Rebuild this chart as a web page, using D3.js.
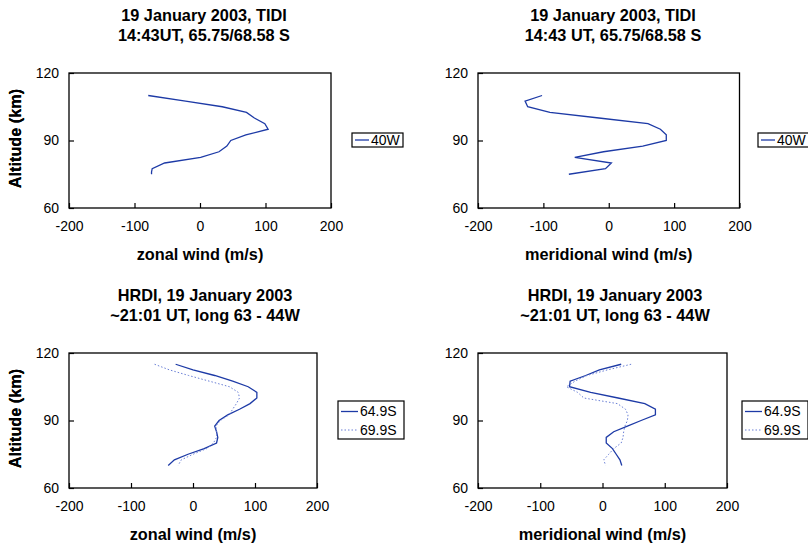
<!DOCTYPE html>
<html>
<head>
<meta charset="utf-8">
<script src="https://cdn.jsdelivr.net/npm/d3@7"></script>
<style>
  html, body { margin: 0; padding: 0; background: #fff; }
  svg { display: block; }
  text { font-family: "Liberation Sans", Arial, Helvetica, sans-serif; fill: #000; }
</style>
</head>
<body>
<svg id="chart" width="808" height="543"></svg>
<script>
// Altitude profiles of wind (km vs m/s)
const xTicks = [-200, -100, 0, 100, 200];
const yTicks = [60, 90, 120];

// TIDI, 40W
const tidiAlt = [110, 107.5, 105, 102.5, 100, 97.5, 95, 92.5, 90, 87.5, 85, 82.5, 80, 77.5, 76, 75];
const tidiZonal = [-79, -22, 34, 71, 83, 99, 104, 70, 47, 41, 29, 1, -54, -73, -74, -74];
const tidiMerAlt = [110, 107.5, 105, 102.5, 100, 97.5, 95, 92.5, 90, 87.5, 85, 82.5, 80, 77.5, 75];
const tidiMeridional = [-102, -128, -124, -90, -15, 60, 79, 88, 88, 52, -8, -52, 4, -5, -61];

// HRDI, 64.9S and 69.9S
const hrdiAlt = [115, 112.5, 110, 107.5, 105, 102.5, 100, 97.5, 95, 92.5, 90, 87.5, 85, 82.5, 80, 77.5, 75, 72.5, 70];
const hrdiZonal649 = [-28, 0, 35, 64, 89, 103, 103, 92, 75, 56, 42, 35, 38, 40, 38, 18, -8, -30, -40];
const hrdiZonal699 = [-62, -38, -7, 26, 59, 73, 75, 70, 64, 58, 44, 37, 38, 38, 33, 22, 0, -19, -24];
const hrdiMer649 = [30, -5, -27, -52, -53, -19, 25, 68, 85, 85, 62, 40, 18, 6, 6, 16, 22, 28, 31];
const hrdiMer699 = [46, 8, -25, -44, -58, -40, -30, 24, 37, 41, 40, 36, 34, 33, 30, 18, 10, 2, 5];

const solidColor = "#1d3aa6";
const dottedColor = "#6a7fd6";
const boldSize = 16.3;

const svg = d3.select("#chart");

const panels = [
  {
    x0: 69, x1: 331, y0: 73, y1: 208, tx: 204,
    title: ["19 January 2003, TIDI", "14:43UT, 65.75/68.58 S"],
    xlabel: "zonal wind (m/s)",
    series: [{ alt: tidiAlt, val: tidiZonal, name: "40W", dotted: false }],
    legend: { x: 352, y: 133, w: 51, h: 14 }
  },
  {
    x0: 478, x1: 739.5, y0: 73, y1: 208, tx: 613,
    title: ["19 January 2003, TIDI", "14:43 UT, 65.75/68.58 S"],
    xlabel: "meridional wind (m/s)",
    series: [{ alt: tidiMerAlt, val: tidiMeridional, name: "40W", dotted: false }],
    legend: { x: 758, y: 133, w: 51, h: 14 }
  },
  {
    x0: 69, x1: 317, y0: 353, y1: 488, tx: 205,
    title: ["HRDI, 19 January 2003", "~21:01 UT, long 63 - 44W"],
    xlabel: "zonal wind (m/s)",
    series: [
      { alt: hrdiAlt, val: hrdiZonal649, name: "64.9S", dotted: false },
      { alt: hrdiAlt, val: hrdiZonal699, name: "69.9S", dotted: true }
    ],
    legend: { x: 338, y: 401, w: 66, h: 38 }
  },
  {
    x0: 478, x1: 727, y0: 353, y1: 488, tx: 615,
    title: ["HRDI, 19 January 2003", "~21:01 UT, long 63 - 44W"],
    xlabel: "meridional wind (m/s)",
    series: [
      { alt: hrdiAlt, val: hrdiMer649, name: "64.9S", dotted: false },
      { alt: hrdiAlt, val: hrdiMer699, name: "69.9S", dotted: true }
    ],
    legend: { x: 742, y: 401, w: 66, h: 38 }
  }
];

panels.forEach(p => {
  const x = d3.scaleLinear().domain([-200, 200]).range([p.x0, p.x1]);
  const y = d3.scaleLinear().domain([60, 120]).range([p.y1, p.y0]);
  const g = svg.append("g");

  // titles
  g.append("text").attr("x", p.tx).attr("y", p.y0 - 52)
    .attr("text-anchor", "middle").attr("font-size", boldSize).attr("font-weight", "bold")
    .text(p.title[0]);
  g.append("text").attr("x", p.tx).attr("y", p.y0 - 32)
    .attr("text-anchor", "middle").attr("font-size", boldSize).attr("font-weight", "bold")
    .text(p.title[1]);

  // frame
  g.append("rect").attr("x", p.x0).attr("y", p.y0)
    .attr("width", p.x1 - p.x0).attr("height", p.y1 - p.y0)
    .attr("fill", "none").attr("stroke", "#000").attr("stroke-width", 1.3);

  // axes with inward ticks, plain hyphen for negatives
  const fmt = d => String(d);
  const xAxis = d3.axisBottom(x).tickValues(xTicks).tickFormat(fmt).tickSize(-5).tickPadding(13);
  const yAxis = d3.axisLeft(y).tickValues(yTicks).tickFormat(fmt).tickSize(-5).tickPadding(10);
  const gx = g.append("g").attr("transform", `translate(0,${p.y1})`).call(xAxis);
  const gy = g.append("g").attr("transform", `translate(${p.x0},0)`).call(yAxis);
  [gx, gy].forEach(a => {
    a.select(".domain").remove();
    a.selectAll("line").attr("stroke", "#000").attr("stroke-width", 1.2);
    a.selectAll("text").attr("font-size", 14).attr("font-family", "Liberation Sans, Arial, sans-serif").attr("fill", "#000");
  });
  gx.selectAll("text").attr("dy", "0.71em");

  // axis labels
  g.append("text").attr("x", (p.x0 + p.x1) / 2).attr("y", p.y1 + 52)
    .attr("text-anchor", "middle").attr("font-size", boldSize).attr("font-weight", "bold")
    .text(p.xlabel);
  g.append("text")
    .attr("transform", `translate(21,${(p.y0 + p.y1) / 2 - 2}) rotate(-90)`)
    .attr("text-anchor", "middle").attr("font-size", boldSize).attr("font-weight", "bold")
    .text("Altitude (km)");

  // profiles
  const line = d3.line().x(d => x(d[1])).y(d => y(d[0]));
  p.series.forEach(s => {
    g.append("path")
      .datum(d3.zip(s.alt, s.val))
      .attr("d", line)
      .attr("fill", "none")
      .attr("stroke", s.dotted ? dottedColor : solidColor)
      .attr("stroke-width", s.dotted ? 1 : 1.3)
      .attr("stroke-dasharray", s.dotted ? "1.5,2" : null);
  });

  // legend
  const L = p.legend;
  const lg = g.append("g");
  lg.append("rect").attr("x", L.x).attr("y", L.y).attr("width", L.w).attr("height", L.h)
    .attr("fill", "#fff").attr("stroke", "#000").attr("stroke-width", 1.2);
  const rowH = p.series.length > 1 ? 18.5 : 14;
  p.series.forEach((s, i) => {
    const cy = L.y + (p.series.length > 1 ? 10.5 : 7) + i * rowH;
    const lx0 = L.x + 3, lx1 = L.x + (p.series.length > 1 ? 20 : 17);
    lg.append("line").attr("x1", lx0).attr("x2", lx1).attr("y1", cy).attr("y2", cy)
      .attr("stroke", s.dotted ? dottedColor : solidColor)
      .attr("stroke-width", s.dotted ? 1 : 1.3)
      .attr("stroke-dasharray", s.dotted ? "1.5,2" : null);
    lg.append("text").attr("x", lx1 + 2).attr("y", cy).attr("dy", "0.35em")
      .attr("font-size", 14).text(s.name);
  });
});
</script>
</body>
</html>
